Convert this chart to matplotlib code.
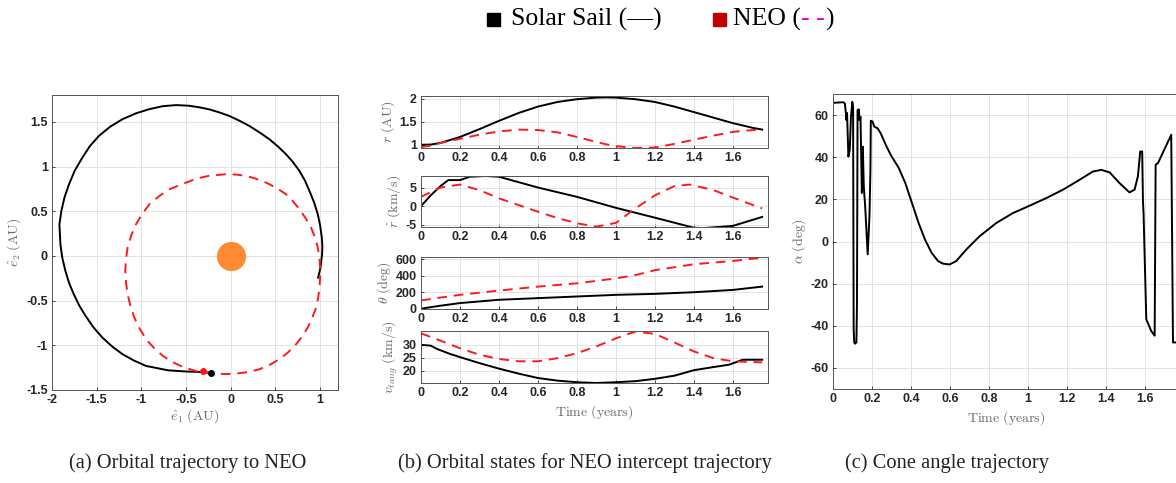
import matplotlib
matplotlib.use("Agg")
import matplotlib.pyplot as plt
from matplotlib.patches import Rectangle

plt.rcParams["mathtext.fontset"] = "cm"
plt.rcParams["font.family"] = ["Liberation Sans", "DejaVu Sans"]

# ---- (a) orbit in the ecliptic plane, AU ----
sail_x = [0.978, 1.004, 1.022, 1.025, 1.019, 1.0, 0.974, 0.932, 0.88, 0.83, 0.768, 0.697,
          0.618, 0.527, 0.431, 0.32, 0.206, 0.094, -0.019, -0.13, -0.243, -0.355, -0.468,
          -0.609, -0.76, -0.91, -1.06, -1.21, -1.35, -1.474, -1.575, -1.66, -1.745, -1.81,
          -1.86, -1.895, -1.917, -1.906, -1.885, -1.85, -1.81, -1.756, -1.695, -1.624,
          -1.535, -1.436, -1.325, -1.21, -1.08, -0.947, -0.7, -0.5, -0.35, -0.225]
sail_y = [-0.243, -0.131, 0.019, 0.11, 0.205, 0.34, 0.466, 0.6, 0.728, 0.843, 0.951, 1.048,
          1.138, 1.225, 1.306, 1.383, 1.455, 1.514, 1.567, 1.606, 1.64, 1.663, 1.68,
          1.687, 1.675, 1.642, 1.595, 1.53, 1.445, 1.343, 1.23, 1.10, 0.955, 0.80,
          0.655, 0.504, 0.354, 0.13, -0.02, -0.168, -0.30, -0.43, -0.555, -0.672,
          -0.80, -0.914, -1.015, -1.10, -1.172, -1.231, -1.28, -1.293, -1.298, -1.306]
neo_x = [-0.056, -0.243, -0.383, -0.468, -0.578, -0.684, -0.8, -0.91, -0.99, -1.06, -1.115,
         -1.154, -1.173, -1.18, -1.172, -1.154, -1.122, -1.079, -1.018, -0.947, -0.858,
         -0.759, -0.65, -0.534, -0.383, -0.275, -0.169, -0.056, 0.056, 0.19, 0.318, 0.432,
         0.543, 0.64, 0.73, 0.8, 0.861, 0.912, 0.955, 0.978, 0.993, 1.0, 1.0, 0.992,
         0.974, 0.942, 0.899, 0.838, 0.768, 0.697, 0.618, 0.51, 0.393, 0.28, 0.169,
         0.056, -0.056]
neo_y = [0.914, 0.896, 0.866, 0.832, 0.79, 0.746, 0.67, 0.578, 0.47, 0.354, 0.225,
         0.093, -0.04, -0.168, -0.3, -0.429, -0.562, -0.69, -0.815, -0.933, -1.03,
         -1.119, -1.188, -1.243, -1.29, -1.307, -1.317, -1.322, -1.317, -1.3, -1.269, -1.22,
         -1.157, -1.08, -0.989, -0.9, -0.802, -0.69, -0.58, -0.468, -0.355, -0.243, -0.131,
         -0.02, 0.093, 0.207, 0.317, 0.422, 0.522, 0.61, 0.69, 0.762, 0.821, 0.864, 0.896,
         0.91, 0.914]
sail_end = (-0.225, -1.306)
neo_end = (-0.311, -1.287)

# ---- (b) orbital states vs time (years) ----
t_r = [0, 0.05, 0.1, 0.2, 0.3, 0.4, 0.5, 0.6, 0.7, 0.8, 0.9, 0.95, 1.0, 1.1, 1.2, 1.3,
       1.4, 1.5, 1.6, 1.7, 1.75]
r_sail = [1.0, 1.005, 1.04, 1.17, 1.34, 1.52, 1.69, 1.83, 1.93, 1.99, 2.025, 2.03, 2.025,
          1.99, 1.93, 1.83, 1.71, 1.59, 1.47, 1.37, 1.33]
r_neo = [0.95, 0.98, 1.04, 1.13, 1.22, 1.29, 1.33, 1.32, 1.27, 1.17, 1.06, 1.01, 0.97,
         0.93, 0.94, 1.02, 1.11, 1.20, 1.28, 1.32, 1.33]

t_rd = [0, 0.05, 0.1, 0.14, 0.2, 0.25, 0.33, 0.4, 0.6, 0.8, 1.0, 1.2, 1.4, 1.45, 1.6, 1.75]
rd_sail = [0, 2.9, 5.4, 7.0, 7.0, 7.9, 8.1, 7.9, 5.0, 2.5, -0.45, -3.1, -5.8, -5.9, -5.3, -2.9]
t_rd_neo = [0, 0.1, 0.2, 0.3, 0.4, 0.5, 0.6, 0.7, 0.8, 0.9, 1.0, 1.1, 1.2, 1.3, 1.38,
            1.5, 1.6, 1.75]
rd_neo = [2.5, 5.0, 5.8, 4.3, 2.1, 0.3, -1.5, -3.2, -4.6, -5.5, -4.5, -0.6, 2.9, 5.4,
          5.8, 4.3, 2.3, -0.6]

t_th = [0, 0.1, 0.2, 0.4, 0.6, 0.8, 1.0, 1.1, 1.2, 1.4, 1.6, 1.75]
th_sail = [0, 36, 68, 108, 128, 148, 168, 174, 180, 200, 228, 268]
th_neo = [100, 135, 168, 220, 268, 308, 368, 408, 468, 540, 580, 620]

t_v = [0, 0.05, 0.08, 0.15, 0.2, 0.3, 0.4, 0.5, 0.6, 0.7, 0.8, 0.9, 1.0, 1.1, 1.2, 1.3,
       1.4, 1.5, 1.58, 1.65, 1.75]
v_sail = [30, 29.7, 28.5, 26.5, 25.3, 23.0, 20.9, 19.0, 17.3, 16.3, 15.7, 15.4, 15.7,
          16.1, 17.0, 18.2, 20.3, 21.5, 22.4, 24.3, 24.3]
t_v_neo = [0, 0.1, 0.2, 0.3, 0.4, 0.5, 0.6, 0.7, 0.8, 0.9, 1.0, 1.1, 1.2, 1.3, 1.4, 1.5,
           1.6, 1.75]
v_neo = [34.4, 31.6, 28.7, 26.2, 24.6, 23.7, 23.7, 24.9, 26.8, 29.4, 32.5, 35.1, 34.2,
         30.9, 27.5, 24.9, 23.7, 23.3]

# ---- (c) cone angle (deg) ----
t_a = [0, 0.052, 0.061, 0.066, 0.069, 0.072, 0.079, 0.086, 0.092, 0.099, 0.103, 0.106,
       0.109, 0.113, 0.12, 0.123, 0.126, 0.133, 0.136, 0.141, 0.148, 0.153, 0.158, 0.165,
       0.178, 0.187, 0.192, 0.194, 0.203, 0.212, 0.229, 0.245, 0.271, 0.296, 0.338, 0.371,
       0.405, 0.439, 0.472, 0.506, 0.539, 0.564, 0.598, 0.632, 0.684, 0.752, 0.838, 0.923,
       1.009, 1.094, 1.18, 1.265, 1.333, 1.376, 1.419, 1.47, 1.521, 1.547, 1.564, 1.576,
       1.586, 1.59, 1.593, 1.607, 1.632, 1.65, 1.655, 1.667, 1.735, 1.744, 1.76]
alpha = [65.8, 66.1, 65.5, 60.8, 57.6, 61, 40.3, 43.5, 59, 66.3, 64, -41.6, -47.9, -48.5,
         -47.9, -30, 62.4, 62.7, 57.6, 59.2, 23, 45, 26, 16.7, -6.1, 12, 34, 57.3, 56.9,
         54.5, 53.7, 51.3, 45.8, 41.1, 34.8, 27.7, 18.3, 8.8, 0.9, -5.4, -9.3, -10.5,
         -10.9, -9.3, -3.8, 2.5, 8.8, 13.5, 17, 20.6, 24.6, 29.3, 33.2, 34, 32.8, 27.7,
         23.3, 24.6, 30.9, 42.7, 42.7, 19, 13.5, -36.9, -42.4, -44.7, 36.4, 37.2, 50.6,
         -47.9, -47.9]

t_ticks = [0, 0.2, 0.4, 0.6, 0.8, 1, 1.2, 1.4, 1.6]

W, H = 1176, 483
fig = plt.figure(figsize=(W / 100, H / 100), dpi=100)

tick_col = "#262626"
lab_col = "#6a6a6a"
neo_col = "#ff1a1a"


def px_axes(left, top, right, bottom):
    return fig.add_axes([left / W, 1 - bottom / H, (right - left) / W, (bottom - top) / H])


def style(ax):
    ax.grid(True, color="#e3e3e3", lw=0.7)
    ax.set_axisbelow(True)
    ax.tick_params(direction="in", length=2.5, width=0.6, colors=tick_col, labelsize=9, pad=3)
    for lab in ax.get_xticklabels() + ax.get_yticklabels():
        lab.set_fontweight("bold")
    for sp in ax.spines.values():
        sp.set_color("#555555")
        sp.set_linewidth(0.7)


def fmt(v):
    return f"{v:g}"


# (a)
ax = px_axes(52, 95, 338, 390)
ax.plot(sail_x, sail_y, color="black", lw=1.4)
ax.plot(neo_x, neo_y, color=neo_col, lw=1.4, ls=(0, (5, 3.5)))
ax.plot(0, 0, "o", color="#ff8a33", ms=20)
ax.plot(*neo_end, "o", color=neo_col, ms=4)
ax.plot(*sail_end, "o", color="black", ms=4)
ax.set_xlim(-2, 1.2)
ax.set_ylim(-1.5, 1.8)
xt = [-2, -1.5, -1, -0.5, 0, 0.5, 1]
yt = [-1.5, -1, -0.5, 0, 0.5, 1, 1.5]
ax.set_xticks(xt, [fmt(v) for v in xt])
ax.set_yticks(yt, [fmt(v) for v in yt])
ax.set_xlabel(r"$\hat{e}_1\ \mathrm{(AU)}$", color=lab_col, fontsize=10, labelpad=1)
ax.set_ylabel(r"$\hat{e}_2\ \mathrm{(AU)}$", color=lab_col, fontsize=10, labelpad=2)
style(ax)

# (b)
rows = [(96, 148), (176, 227), (257, 309), (331, 383)]
series = [
    (t_r, r_sail, t_r, r_neo, (0.93, 2.06), [1, 1.5, 2], r"$r\ \mathrm{(AU)}$"),
    (t_rd, rd_sail, t_rd_neo, rd_neo, (-5.6, 8.1), [-5, 0, 5], r"$\dot{r}\ \mathrm{(km/s)}$"),
    (t_th, th_sail, t_th, th_neo, (-4, 628), [0, 200, 400, 600], r"$\theta\ \mathrm{(deg)}$"),
    (t_v, v_sail, t_v_neo, v_neo, (15.4, 35.3), [20, 25, 30], r"$v_{tang}\ \mathrm{(km/s)}$"),
]
for (top, bot), (ts, ys, tn, yn, ylim, yt, lab) in zip(rows, series):
    ax = px_axes(421, top, 768, bot)
    ax.plot(ts, ys, color="black", lw=1.4)
    ax.plot(tn, yn, color=neo_col, lw=1.4, ls=(0, (5, 3.5)))
    ax.set_xlim(0, 1.78)
    ax.set_ylim(*ylim)
    ax.set_xticks(t_ticks, [fmt(v) for v in t_ticks])
    ax.set_yticks(yt, [fmt(v) for v in yt])
    ax.set_ylabel(lab, color=lab_col, fontsize=10, labelpad=2)
    style(ax)
ax.set_xlabel(r"$\mathrm{Time\ (years)}$", color=lab_col, fontsize=10, labelpad=3)

# (c)
ax = px_axes(833, 94, 1180, 389)
ax.plot(t_a, alpha, color="black", lw=1.4)
ax.set_xlim(0, 1.78)
ax.set_ylim(-70, 70)
ax.set_xticks(t_ticks, [fmt(v) for v in t_ticks])
at = [-60, -40, -20, 0, 20, 40, 60]
ax.set_yticks(at, [fmt(v) for v in at])
ax.set_xlabel(r"$\mathrm{Time\ (years)}$", color=lab_col, fontsize=10, labelpad=3)
ax.set_ylabel(r"$\alpha\ \mathrm{(deg)}$", color=lab_col, fontsize=10, labelpad=2)
style(ax)

# captions
cap_font = dict(family="Liberation Serif", fontsize=14.8, color="#222222", ha="center", va="center")
fig.text(188 / W, 1 - 463 / H, "(a) Orbital trajectory to NEO", **cap_font)
fig.text(585 / W, 1 - 463 / H, "(b) Orbital states for NEO intercept trajectory", **cap_font)
fig.text(947 / W, 1 - 463 / H, "(c) Cone angle trajectory", **cap_font)

# legend row at the top
leg_font = dict(family="Liberation Serif", fontsize=18.5, color="black", va="center")
y_leg = 1 - 19 / H
fig.patches.append(Rectangle((487 / W, 1 - 26 / H), 13 / W, 13 / H, transform=fig.transFigure,
                             color="black", figure=fig))
fig.text(511 / W, y_leg, "Solar Sail (\u2014)", **leg_font)
fig.patches.append(Rectangle((713 / W, 1 - 26 / H), 13 / W, 13 / H, transform=fig.transFigure,
                             color="#c00000", figure=fig))
renderer = fig.canvas.get_renderer()
t1 = fig.text(733 / W, y_leg, "NEO (", **leg_font)
x = t1.get_window_extent(renderer).x1 / W
t2 = fig.text(x, y_leg, "- -", **dict(leg_font, color="#e000e0"))
x = t2.get_window_extent(renderer).x1 / W
fig.text(x, y_leg, ")", **leg_font)

fig.savefig("out.png", dpi=100)
